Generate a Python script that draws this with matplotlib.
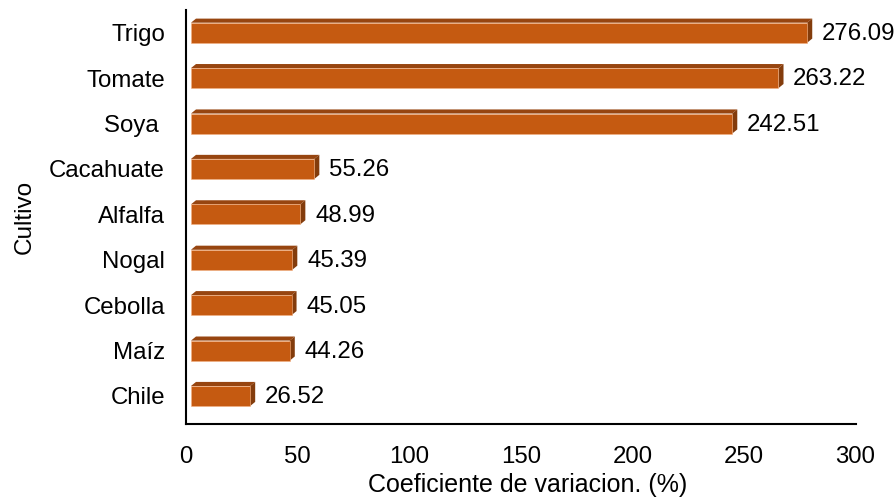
import numpy as np
import matplotlib.pyplot as plt
from matplotlib.patches import Polygon

plt.rcParams['font.family'] = ['Liberation Sans', 'DejaVu Sans']

cultivos = ['Chile', 'Maíz', 'Cebolla', 'Nogal', 'Alfalfa', 'Cacahuate', 'Soya ', 'Tomate', 'Trigo']
coef_var = [26.52, 44.26, 45.05, 45.39, 48.99, 55.26, 242.51, 263.22, 276.09]

FRONT = '#C55A11'
TOP = '#974510'
SIDE = '#833C0C'

# fake 3D bars: depth in data units
dx = 2.25
dy = 0.09
h = 0.44

fig = plt.figure(figsize=(8.94, 4.99), dpi=100)
ax = fig.add_axes([0.208, 0.150, 0.749, 0.83])

y = np.arange(len(cultivos))
for yi, v in zip(y, coef_var):
    x0, x1 = dx, v + dx
    y0, y1 = yi - h / 2, yi + h / 2
    front = Polygon([(x0, y0), (x1, y0), (x1, y1), (x0, y1)], closed=True,
                    facecolor=FRONT, edgecolor='#F4B183', lw=0.4, zorder=3)
    top = Polygon([(x0, y1), (x1, y1), (x1 + dx, y1 + dy), (x0 + dx, y1 + dy)], closed=True,
                  facecolor=TOP, edgecolor='none', zorder=3)
    side = Polygon([(x1, y0), (x1, y1), (x1 + dx, y1 + dy), (x1 + dx, y0 + dy)], closed=True,
                   facecolor=SIDE, edgecolor='none', zorder=3)
    for p in (top, side, front):
        ax.add_patch(p)
    ax.annotate(f'{v:.2f}', xy=(x1 + dx, yi), xytext=(7, -1), textcoords='offset points',
                va='center', ha='left', fontsize=17.3)

ax.set_xlim(0, 300)
ax.set_ylim(-0.62, 8.5)
ax.set_xticks([0, 50, 100, 150, 200, 250, 300])
ax.set_yticks(y)
ax.set_yticklabels(cultivos)
ax.tick_params(axis='both', length=0, labelsize=17.3)
ax.tick_params(axis='y', pad=15)
ax.tick_params(axis='x', pad=16)

ax.spines['top'].set_visible(False)
ax.spines['right'].set_visible(False)
ax.spines['left'].set_linewidth(1.5)
ax.spines['bottom'].set_linewidth(1.5)

ax.set_xlabel('Coeficiente de variacion. (%)', fontsize=18, labelpad=3)
ax.xaxis.label.set_x(0.51)
ax.set_ylabel('Cultivo', fontsize=17.5, labelpad=10)

plt.savefig('out.png', dpi=100)
